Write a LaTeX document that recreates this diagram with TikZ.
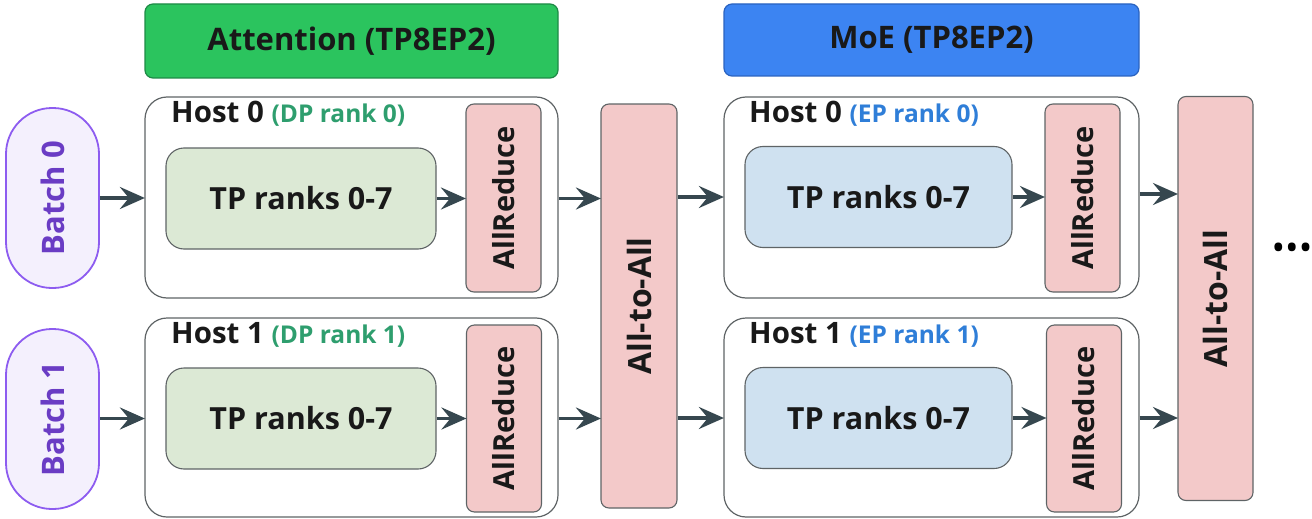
\documentclass[tikz,border=0pt]{standalone}
\usepackage{fontspec}
\setmainfont{Open Sans}
\usetikzlibrary{arrows.meta}

\definecolor{hdrgreen}{HTML}{2BC45E}
\definecolor{hdrgreenline}{HTML}{1E8A46}
\definecolor{hdrblue}{HTML}{3C84F2}
\definecolor{hdrblueline}{HTML}{2A63C0}
\definecolor{tpgreen}{HTML}{DCE9D5}
\definecolor{tpblue}{HTML}{CFE1F0}
\definecolor{commpink}{HTML}{F3C9C9}
\definecolor{boxline}{HTML}{5F6466}
\definecolor{batchfill}{HTML}{F4F0FD}
\definecolor{batchline}{HTML}{8D5CF0}
\definecolor{batchtext}{HTML}{6A3CC4}
\definecolor{dpgreen}{HTML}{2E9E6E}
\definecolor{epblue}{HTML}{2F7ED8}
\definecolor{arrowgray}{HTML}{36474F}

\newcommand\ranklabelfont{\fontsize{24.5}{28}\selectfont}

\tikzset{
  header/.style={draw, line width=1.2pt, rounded corners=8pt, inner sep=0pt,
    font=\fontsize{31}{34}\selectfont\bfseries, text=black!90},
  hostbox/.style={draw=boxline, line width=1.2pt, fill=white, rounded corners=22pt, inner sep=0pt},
  tpbox/.style={draw=boxline, line width=1.1pt, rounded corners=18pt, inner sep=0pt,
    minimum width=270pt, minimum height=101pt,
    font=\fontsize{30.5}{34}\selectfont\bfseries, text=black!90},
  commbox/.style={draw=boxline, line width=1.1pt, fill=commpink, rounded corners=8pt, inner sep=0pt,
    font=\fontsize{29}{32}\selectfont\bfseries, text=black!90},
  a2abox/.style={commbox, font=\fontsize{32}{35}\selectfont\bfseries},
  batchbox/.style={draw=batchline, line width=1.8pt, fill=batchfill, rounded corners=46pt, inner sep=0pt,
    minimum width=93pt, minimum height=180pt,
    font=\fontsize{31}{34}\selectfont\bfseries, text=batchtext},
  hostlabel/.style={anchor=west, inner sep=0pt, font=\fontsize{29.5}{32}\selectfont\bfseries, text=black!90},
  arr/.style={draw=arrowgray, line width=3.6pt,
    -{Stealth[length=25pt, width=22pt, inset=9pt]}, shorten >=-0.5pt}
}

\begin{document}
\begin{tikzpicture}[x=1pt, y=-1pt]
\useasboundingbox (0,0) rectangle (1312,519);

% stage headers
\node[header, fill=hdrgreen, draw=hdrgreenline, minimum width=413pt, minimum height=74pt]
  (hdrA) at (351.5,41) {Attention (TP8EP2)};
\node[header, fill=hdrblue, draw=hdrblueline, minimum width=415pt, minimum height=72pt]
  (hdrM) at (931.5,40) {MoE (TP8EP2)};

% input batches
\node[batchbox] (b0) at (52.5,198) {\rotatebox{90}{Batch 0}};
\node[batchbox] (b1) at (52.5,419) {\rotatebox{90}{Batch 1}};

% attention hosts
\node[hostbox, minimum width=413pt, minimum height=201pt] (hl0) at (351.5,197.5) {};
\node[hostbox, minimum width=413pt, minimum height=199pt] (hl1) at (351.5,417.5) {};
\node[hostlabel] (hl0t) at (171,114) {Host 0 \textcolor{dpgreen}{\ranklabelfont(DP rank 0)}};
\node[hostlabel] (hl1t) at (171,335) {Host 1 \textcolor{dpgreen}{\ranklabelfont(DP rank 1)}};
\node[tpbox, fill=tpgreen] (tl0) at (301,198.5) {TP ranks 0-7};
\node[tpbox, fill=tpgreen] (tl1) at (301,418.5) {TP ranks 0-7};
\node[commbox, minimum width=75pt, minimum height=188pt] (arl0) at (503.5,198) {\rotatebox{90}{AllReduce}};
\node[commbox, minimum width=75pt, minimum height=187pt] (arl1) at (504,418.5) {\rotatebox{90}{AllReduce}};

% first all-to-all
\node[a2abox, minimum width=76pt, minimum height=404pt] (a2a1) at (639,306) {\rotatebox{90}{All-to-All}};

% MoE hosts
\node[hostbox, minimum width=415pt, minimum height=201pt] (hr0) at (931.5,197.5) {};
\node[hostbox, minimum width=415pt, minimum height=199pt] (hr1) at (931.5,417.5) {};
\node[hostlabel] (hr0t) at (749,114) {Host 0 \textcolor{epblue}{\ranklabelfont(EP rank 0)}};
\node[hostlabel] (hr1t) at (749,335) {Host 1 \textcolor{epblue}{\ranklabelfont(EP rank 1)}};
\node[tpbox, fill=tpblue, minimum width=267pt] (tr0) at (878.5,197) {TP ranks 0-7};
\node[tpbox, fill=tpblue, minimum width=267pt] (tr1) at (878.5,418) {TP ranks 0-7};
\node[commbox, minimum width=75pt, minimum height=188pt] (arr0) at (1082.5,198) {\rotatebox{90}{AllReduce}};
\node[commbox, minimum width=75pt, minimum height=187pt] (arr1) at (1084,418.5) {\rotatebox{90}{AllReduce}};

% second all-to-all
\node[a2abox, minimum width=75pt, minimum height=404pt] (a2a2) at (1215.5,298.5) {\rotatebox{90}{All-to-All}};

% continuation
\node[font=\fontsize{36}{38}\selectfont, inner sep=0pt] (more) at (1292,252) {•••};

% data flow, top row
\draw[arr] (b0) -- (hl0.west |- b0);
\draw[arr] (tl0) -- (arl0.west |- tl0);
\draw[arr] (hl0.east |- tl0) -- (a2a1.west |- tl0);
\draw[arr] (a2a1.east |- tr0) -- (hr0.west |- tr0);
\draw[arr] (tr0) -- (arr0.west |- tr0);
\draw[arr] (hr0.east |- 0,194) -- (a2a2.west |- 0,194);

% data flow, bottom row
\draw[arr] (b1.east |- tl1) -- (hl1.west |- tl1);
\draw[arr] (tl1) -- (arl1.west |- tl1);
\draw[arr] (hl1.east |- tl1) -- (a2a1.west |- tl1);
\draw[arr] (a2a1.east |- tr1) -- (hr1.west |- tr1);
\draw[arr] (tr1) -- (arr1.west |- tr1);
\draw[arr] (hr1.east |- tr1) -- (a2a2.west |- tr1);
\end{tikzpicture}
\end{document}
